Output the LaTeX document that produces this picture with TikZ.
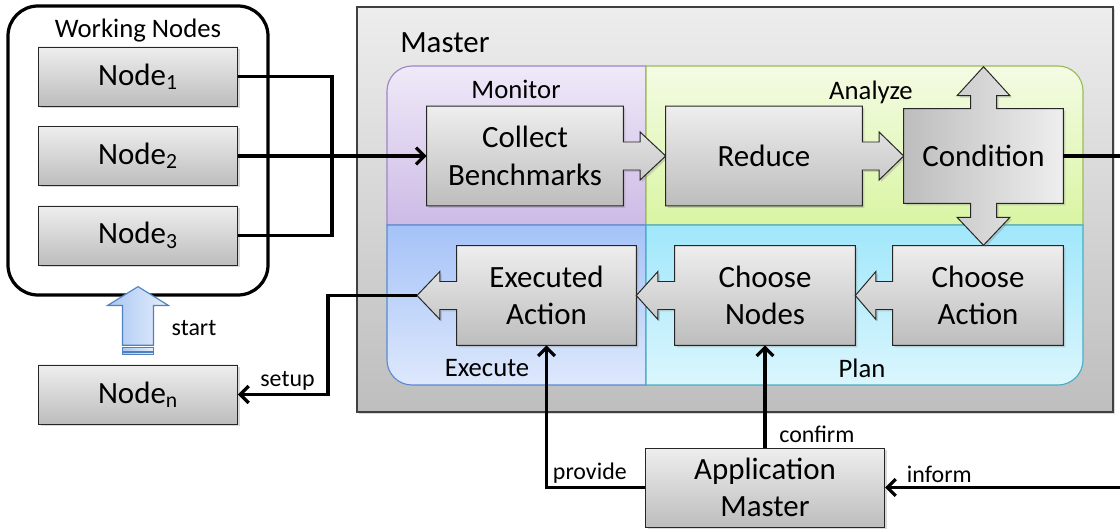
\documentclass[tikz,border=0pt]{standalone}
\usepackage{fontspec}
\setmainfont{Carlito}
\usepackage{tikz}
\usetikzlibrary{arrows.meta, positioning, calc, shadows}

\definecolor{boxtop}{HTML}{EEEEEE}
\definecolor{boxbot}{HTML}{BDBDBD}
\definecolor{mastertop}{HTML}{EDEDED}
\definecolor{masterbot}{HTML}{BEBEBE}
\definecolor{montop}{HTML}{EFE9F8}
\definecolor{monbot}{HTML}{CDBBE6}
\definecolor{monline}{HTML}{9D85C6}
\definecolor{anatop}{HTML}{F4FBE4}
\definecolor{anabot}{HTML}{D9F5A3}
\definecolor{analine}{HTML}{9BBB59}
\definecolor{exetop}{HTML}{A5C2F7}
\definecolor{exebot}{HTML}{DDE8FC}
\definecolor{exeline}{HTML}{5A8AD4}
\definecolor{plantop}{HTML}{A0E7FB}
\definecolor{planbot}{HTML}{DBF6FD}
\definecolor{planline}{HTML}{4BACC6}
\definecolor{startL}{HTML}{A9C6F2}
\definecolor{startR}{HTML}{E6EEFC}
\definecolor{startline}{HTML}{4F81BD}

\pgfdeclarelayer{back}
\pgfdeclarelayer{shapes}
\pgfsetlayers{back,shapes,main}

% box with an arrow callout: node, near side, far side, sign, tip target
\newcommand{\callshape}[5]{%
  \path[box] (#1.north #3) -- (#1.north #2) -- ($(#1.#2)+(0,0.35)$) -- ++({#4*0.42},0)
    -- ++(0,0.25) -- (#1.#2 -| #5) -- ($(#1.#2)+({#4*0.42},-0.6)$) -- ++(0,0.25)
    -- ($(#1.#2)+(0,-0.35)$) -- (#1.south #2) -- (#1.south #3) -- cycle;}

\begin{document}
\begin{tikzpicture}[
  softshadow/.style={drop shadow={shadow xshift=0.05cm, shadow yshift=-0.05cm, opacity=0.3}},
  box/.style={draw=black!85, line width=0.7pt, top color=boxtop, bottom color=boxbot, softshadow},
  condbox/.style={draw=black!85, line width=0.7pt, left color=boxbot, right color=boxtop, softshadow},
  nodebox/.style={box, font=\fontsize{22}{26.5}\selectfont, minimum width=4.975cm, minimum height=1.475cm},
  txt/.style={font=\fontsize{22}{26.5}\selectfont, align=center, inner sep=0pt},
  zone/.style={font=\fontsize{19}{22}\selectfont, inner sep=0pt},
  lab/.style={font=\fontsize{17}{20}\selectfont, inner sep=2pt},
  wire/.style={line width=2.3pt},
  conn/.style={line width=2.3pt, -{Straight Barb[length=6pt,width=12pt]}},
  startarr/.style={draw=startline, line width=0.8pt, left color=startL, right color=startR},
]
\useasboundingbox (0,0) rectangle (28,13.275);

% working nodes
\node[draw, line width=2.3pt, rounded corners=0.75cm, fill=white,
  minimum width=6.5cm, minimum height=7.225cm] (wn) at (3.45,9.5125) {};
\node[zone] (wnlbl) at (3.45,12.5) {Working Nodes};
\node[nodebox] (n1) at (3.45,11.3625) {Node\textsubscript{1}};
\node[nodebox] (n2) at (3.45,9.375) {Node\textsubscript{2}};
\node[nodebox] (n3) at (3.45,7.3875) {Node\textsubscript{3}};
\node[nodebox] (nn) at (3.45,3.4125) {Node\textsubscript{n}};

% master
\begin{pgfonlayer}{back}
\node[draw=black!75, line width=1pt, top color=mastertop, bottom color=masterbot, softshadow,
  minimum width=18.9cm, minimum height=10.125cm] (ms) at (18.375,8.0375) {};
\path[draw=monline, line width=0.8pt, top color=montop, bottom color=monbot]
  (9.675,7.65) -- (9.675,11.0) arc[start angle=180, end angle=90, radius=0.625]
  -- (16.15,11.625) -- (16.15,7.65) -- cycle;
\path[draw=analine, line width=0.8pt, top color=anatop, bottom color=anabot]
  (16.15,7.65) -- (16.15,11.625) -- (26.45,11.625)
  arc[start angle=90, end angle=0, radius=0.625] -- (27.075,7.65) -- cycle;
\path[draw=exeline, line width=0.8pt, top color=exetop, bottom color=exebot]
  (9.675,7.65) -- (9.675,4.275) arc[start angle=180, end angle=270, radius=0.625]
  -- (16.15,3.65) -- (16.15,7.65) -- cycle;
\path[draw=planline, line width=0.8pt, top color=plantop, bottom color=planbot]
  (16.15,7.65) -- (16.15,3.65) -- (26.45,3.65)
  arc[start angle=270, end angle=360, radius=0.625] -- (27.075,7.65) -- cycle;
\end{pgfonlayer}
\node[anchor=west, inner sep=0pt, font=\fontsize{22}{26}\selectfont] (mslbl) at (10.0,12.2) {Master};
\node[zone] (monlbl) at (12.9,11.05) {Monitor};
\node[zone] (analbl) at (21.775,10.975) {Analyze};
\node[zone] (exelbl) at (12.175,4.075) {Execute};
\node[zone] (planlbl) at (21.55,4.075) {Plan};

% steps
\node[txt, minimum width=4.9cm, minimum height=2.475cm] (cb) at (13.125,9.375) {Collect\\Benchmarks};
\node[txt, minimum width=4.9cm, minimum height=2.475cm] (re) at (19.1,9.375) {Reduce};
\node[txt, minimum width=3.975cm, minimum height=2.35cm] (co) at (24.5875,9.375) {Condition};
\node[txt, minimum width=4.475cm, minimum height=2.475cm] (ea) at (13.6625,5.8875) {Executed\\Action};
\node[txt, minimum width=4.5cm, minimum height=2.475cm] (cn) at (19.125,5.8875) {Choose\\Nodes};
\node[txt, minimum width=4.25cm, minimum height=2.475cm] (ca) at (24.45,5.8875) {Choose\\Action};
\coordinate (eatip) at (10.425,5.8875);

\begin{pgfonlayer}{shapes}
\callshape{cb}{east}{west}{1}{re.west}
\callshape{re}{east}{west}{1}{co.west}
\callshape{ea}{west}{east}{-1}{eatip}
\callshape{cn}{west}{east}{-1}{ea.east}
\callshape{ca}{west}{east}{-1}{cn.east}
\path[condbox] (co.south west) -- (co.north west) -- ($(co.north)+(-0.325,0)$) -- ++(0,0.325)
  -- ++(-0.3375,0) -- ($(co.north)+(0,1.05)$) -- ($(co.north)+(0.6625,0.325)$) -- ++(-0.3375,0)
  -- ++(0,-0.325) -- (co.north east) -- (co.south east) -- ($(co.south)+(0.325,0)$)
  -- ++(0,-0.35) -- ++(0.3375,0) -- ($(co.south)+(0,-1.05)$) -- ($(co.south)+(-0.6625,-0.35)$)
  -- ++(0.3375,0) -- ++(0,0.35) -- cycle;
\end{pgfonlayer}

\node[nodebox, align=center, minimum width=5.975cm, minimum height=1.975cm] (am) at (19.125,1.0875) {Application\\Master};

% start arrow
\path[startarr] ($(nn.north)+(-0.3875,0.48)$) -- ++(0,0.995) -- ++(-0.375,0)
  -- ($(wn.south)+(0,0.25)$) -- ($(nn.north)+(0.7625,1.475)$) -- ++(-0.375,0) -- ++(0,-0.995) -- cycle;
\path[startarr] ($(nn.north)+(-0.3875,0.325)$) rectangle ++(0.775,0.1);
\path[startarr] ($(nn.north)+(-0.3875,0.25)$) rectangle ++(0.775,0.05);
\node[lab] (startlbl) at (4.85,5.075) {start};

% connectors
\coordinate (bus) at (8.3,9.375);
\coordinate (setupbend) at (8.2,3.4125);
\coordinate (farright) at (28.3,1.0875);
\draw[wire] (n1.east) -| (bus);
\draw[wire] (n3.east) -| (bus);
\draw[conn] (n2.east) -- (cb.west);
\draw[conn] (eatip) -| (setupbend) -- (nn.east) node[lab, above, pos=0.45] (setuplbl) {setup};
\draw[conn] (co.east) -| (farright) -- (am.east) node[lab, above, pos=0.78] (informlbl) {inform};
\draw[conn] (am.west) -| (ea.south) node[lab, above, pos=0.28] (providelbl) {provide};
\draw[conn] (am.north) -- (cn.south) node[lab, anchor=south west, pos=0, xshift=0.25cm] (confirmlbl) {confirm};
\end{tikzpicture}
\end{document}
